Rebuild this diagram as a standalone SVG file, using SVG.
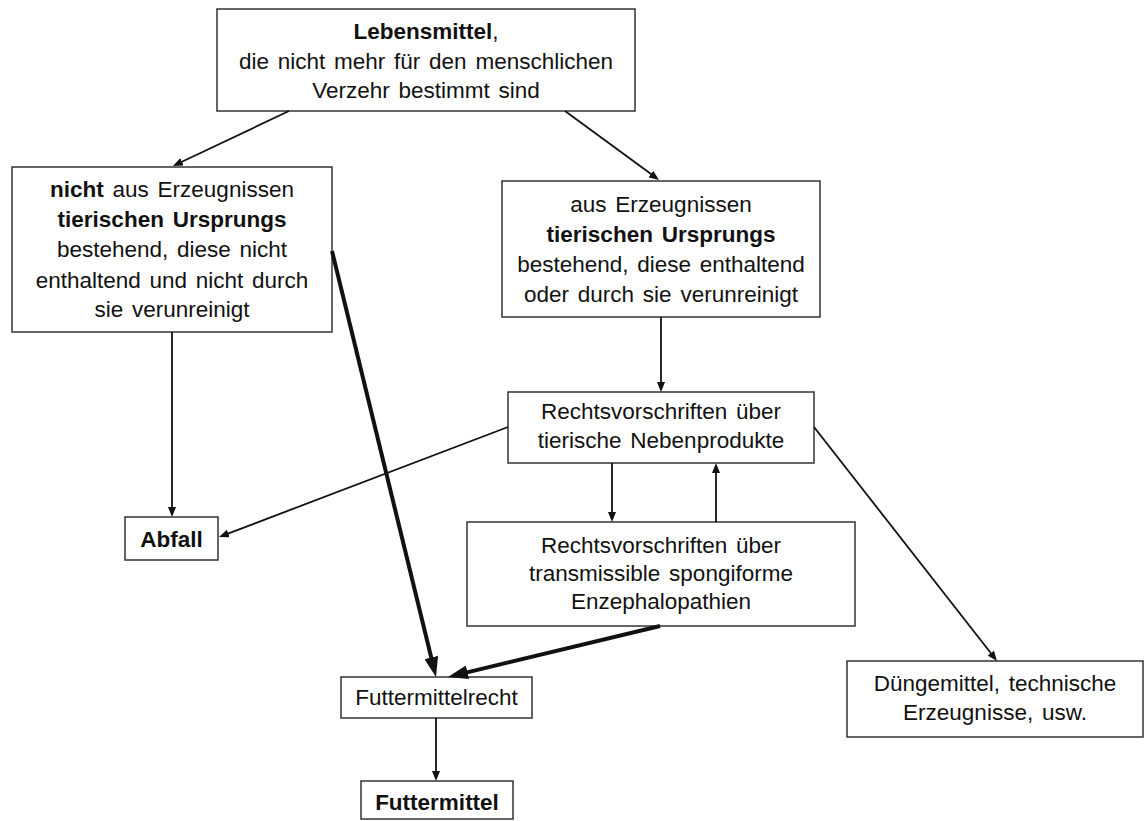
<svg xmlns="http://www.w3.org/2000/svg" width="1147" height="821" viewBox="0 0 1147 821">
<style>
.box{fill:#fff;stroke:#333;stroke-width:1.5}
.t{font-family:"Liberation Sans",Arial,sans-serif;font-size:22.5px;fill:#111;text-anchor:middle;word-spacing:2.5px}
.b{font-weight:bold}
.thin{stroke:#111;stroke-width:1.8;fill:none;marker-end:url(#ah)}
.thick{stroke:#111;stroke-width:4;fill:none;marker-end:url(#ahb)}
</style>
<defs>
<marker id="ah" markerUnits="userSpaceOnUse" viewBox="0 0 10 8" markerWidth="10" markerHeight="8" refX="6" refY="4" orient="auto">
<path d="M0,0 L10,4 L0,8 z" fill="#111"/>
</marker>
<marker id="ahb" markerUnits="userSpaceOnUse" viewBox="0 0 20 14" markerWidth="20" markerHeight="14" refX="12" refY="7" orient="auto">
<path d="M0,0 L20,7 L0,14 z" fill="#111"/>
</marker>
</defs>
<rect width="1147" height="821" fill="#fff"/>

<g id="n-lebensmittel">
<rect class="box" x="217" y="9" width="418" height="102"/>
<text class="t" x="426" y="39"><tspan class="b">Lebensmittel</tspan>,</text>
<text class="t" x="426" y="68.5">die nicht mehr für den menschlichen</text>
<text class="t" x="426" y="98">Verzehr bestimmt sind</text>
</g>

<g id="n-nicht-tierisch">
<rect class="box" x="12" y="167" width="320" height="165"/>
<text class="t" x="172" y="197"><tspan class="b">nicht</tspan> aus Erzeugnissen</text>
<text class="t b" x="172" y="227">tierischen Ursprungs</text>
<text class="t" x="172" y="257">bestehend, diese nicht</text>
<text class="t" x="172" y="288">enthaltend und nicht durch</text>
<text class="t" x="172" y="317">sie verunreinigt</text>
</g>

<g id="n-tierisch">
<rect class="box" x="502" y="181" width="318" height="136"/>
<text class="t" x="661" y="212">aus Erzeugnissen</text>
<text class="t b" x="661" y="242">tierischen Ursprungs</text>
<text class="t" x="661" y="272">bestehend, diese enthaltend</text>
<text class="t" x="661" y="302">oder durch sie verunreinigt</text>
</g>

<g id="n-nebenprodukte">
<rect class="box" x="508" y="392" width="306" height="71"/>
<text class="t" x="661" y="419">Rechtsvorschriften über</text>
<text class="t" x="661" y="448">tierische Nebenprodukte</text>
</g>

<g id="n-tse">
<rect class="box" x="467" y="522" width="388" height="104"/>
<text class="t" x="661" y="553">Rechtsvorschriften über</text>
<text class="t" x="661" y="581">transmissible spongiforme</text>
<text class="t" x="661" y="609">Enzephalopathien</text>
</g>

<g id="n-abfall">
<rect class="box" x="125" y="517" width="93" height="43"/>
<text class="t b" x="171.5" y="547">Abfall</text>
</g>

<g id="n-futtermittelrecht">
<rect class="box" x="341" y="677" width="191" height="41"/>
<text class="t" x="436.5" y="705">Futtermittelrecht</text>
</g>

<g id="n-futtermittel">
<rect class="box" x="361" y="781" width="152" height="38"/>
<text class="t b" x="437" y="810">Futtermittel</text>
</g>

<g id="n-duengemittel">
<rect class="box" x="847" y="661" width="296" height="76"/>
<text class="t" x="995" y="691">Düngemittel, technische</text>
<text class="t" x="995" y="720">Erzeugnisse, usw.</text>
</g>

<g id="connectors">
<line class="thin" x1="289" y1="111" x2="176.6" y2="164.3"/>
<line class="thin" x1="565" y1="111" x2="655.8" y2="177.6"/>
<line class="thin" x1="172" y1="332" x2="172" y2="513"/>
<line class="thin" x1="661" y1="317" x2="661" y2="388"/>
<line class="thin" x1="612" y1="463" x2="612" y2="518"/>
<line class="thin" x1="716" y1="522" x2="716" y2="467"/>
<line class="thin" x1="508" y1="427" x2="222.7" y2="535.6"/>
<line class="thin" x1="814" y1="427" x2="994.5" y2="657.8"/>
<line class="thin" x1="436" y1="718" x2="436" y2="777"/>
<line class="thick" x1="332" y1="251" x2="434.1" y2="669.2"/>
<line class="thick" x1="660" y1="626" x2="455.8" y2="675.1"/>
</g>
</svg>
